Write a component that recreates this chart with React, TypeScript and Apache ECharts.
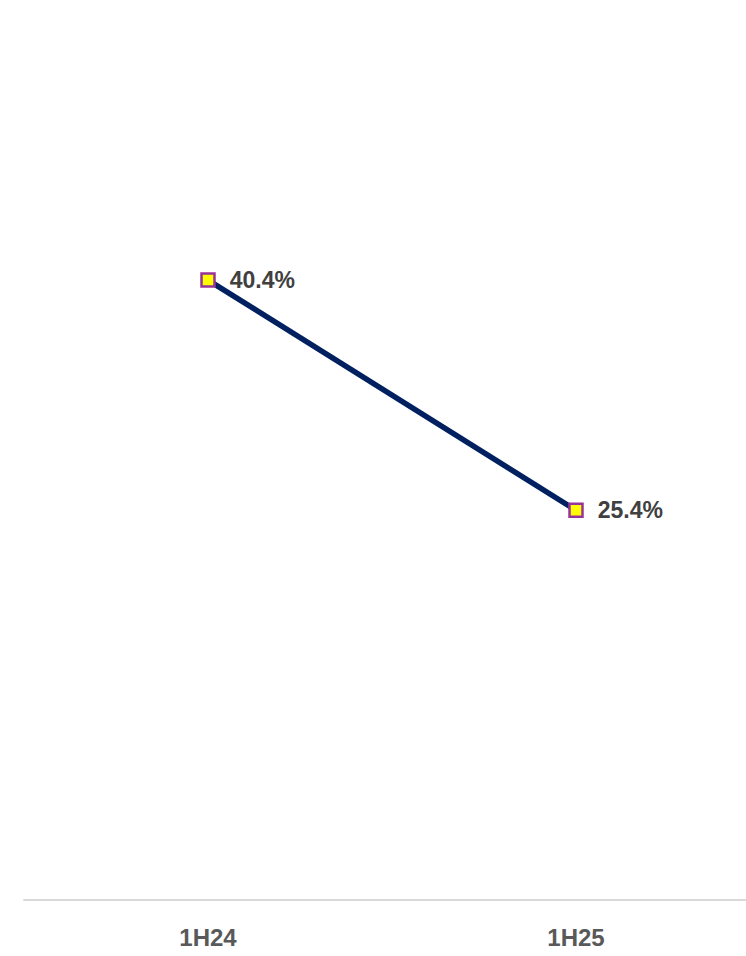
import React, { useEffect, useRef } from "react";
import * as echarts from "echarts";

const categories = ["1H24", "1H25"];
const values = [40.4, 25.4];

export default function App() {
  const ref = useRef<HTMLDivElement>(null);
  useEffect(() => {
    if (!ref.current) return;
    const chart = echarts.init(ref.current, undefined, { renderer: "svg" });
    chart.setOption({
      animation: false,
      backgroundColor: "#ffffff",
      grid: { left: 24, top: 10, right: 0, bottom: 56, containLabel: false },
      xAxis: {
        type: "category",
        data: categories,
        boundaryGap: true,
        axisLine: { show: true, lineStyle: { color: "#d9d9d9", width: 2 } },
        axisTick: { show: false },
        axisLabel: {
          margin: 25,
          fontFamily: "Liberation Sans, Arial, sans-serif",
          fontWeight: "bold",
          fontSize: 24,
          color: "#595959",
        },
        splitLine: { show: false },
      },
      yAxis: {
        type: "value",
        min: 0,
        max: 58,
        show: false,
        splitLine: { show: false },
      },
      series: [
        {
          type: "line",
          data: values,
          symbol: "rect",
          symbolSize: 13,
          itemStyle: { color: "#ffff00", borderColor: "#993399", borderWidth: 2.5 },
          lineStyle: { color: "#002060", width: 5.5 },
          label: {
            show: true,
            position: "right",
            distance: 14,
            formatter: (p: any) => p.value.toFixed(1) + "%",
            fontFamily: "Liberation Sans, Arial, sans-serif",
            fontWeight: "bold",
            fontSize: 23,
            color: "#404040",
          },
          z: 3,
        },
      ],
    });
    return () => chart.dispose();
  }, []);
  return (
    <div
      style={{ position: "fixed", left: 0, top: 0, width: 746, height: 956, overflow: "hidden", background: "#fff" }}
    >
      <div ref={ref} style={{ width: 760, height: 956 }} />
    </div>
  );
}
